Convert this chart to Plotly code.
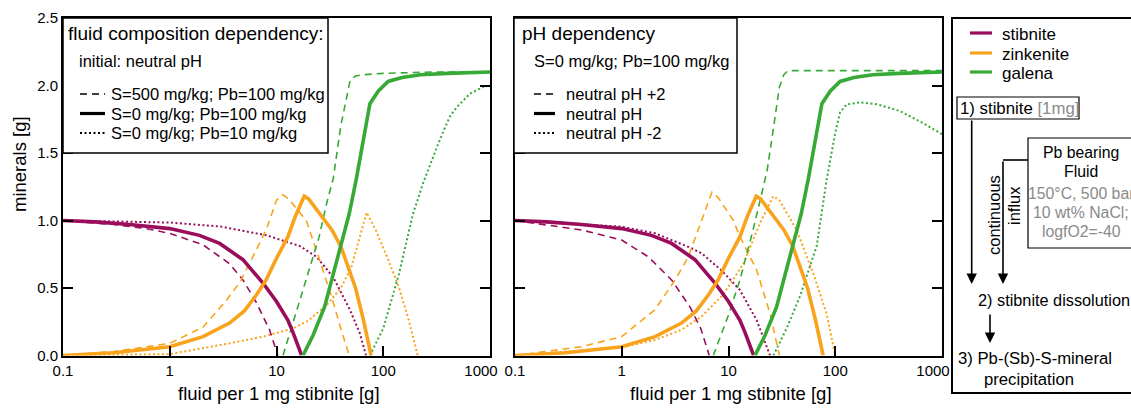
import plotly.graph_objects as go

W, H = 1131, 410

# ---------------- data ----------------
# neutral pH, S=0 mg/kg, Pb=100 mg/kg (solid, shared by both panels)
stib_neutral_x = [0.1, 0.2, 0.42, 1, 1.9, 2.93, 4.85, 7.5, 10, 12.8, 14.3, 17.2]
stib_neutral_y = [1.0, 0.99, 0.97, 0.94, 0.89, 0.83, 0.71, 0.535, 0.40, 0.26, 0.17, 0.0]
zink_neutral_x = [0.1, 0.3, 1, 2.05, 3.63, 5.0, 6.5, 8.0, 10, 12.8, 15, 18.2, 20, 25, 33, 40, 48, 55, 65, 77]
zink_neutral_y = [0.0, 0.02, 0.065, 0.14, 0.24, 0.33, 0.45, 0.56, 0.72, 0.88, 1.03, 1.18, 1.16, 1.06, 0.93, 0.81, 0.64, 0.5, 0.27, 0.0]
gal_neutral_x = [17.7, 22, 28.2, 34, 40.5, 48, 56, 65, 75, 90, 111, 150, 224, 400, 1000]
gal_neutral_y = [0.0, 0.15, 0.36, 0.6, 0.83, 1.05, 1.31, 1.6, 1.865, 1.96, 2.03, 2.06, 2.08, 2.09, 2.1]

# S=500 mg/kg; Pb=100 mg/kg (dashed, left panel)
stib_s500_x = [0.1, 0.3, 0.6, 1, 2.05, 3.63, 4.85, 6.5, 8.6, 10.3]
stib_s500_y = [1.0, 0.97, 0.94, 0.905, 0.82, 0.68, 0.56, 0.39, 0.19, 0.0]
zink_s500_x = [0.1, 0.3, 1, 2.05, 3.4, 4.6, 6.0, 8.0, 10, 11.5, 13, 19, 25, 33, 40, 48]
zink_s500_y = [0.0, 0.03, 0.09, 0.21, 0.41, 0.55, 0.73, 0.93, 1.15, 1.19, 1.16, 1.0, 0.72, 0.43, 0.2, 0.0]
gal_s500_x = [11.5, 15, 20, 25, 30, 34, 40, 49, 55, 65, 100, 300, 1000]
gal_s500_y = [0.0, 0.3, 0.62, 0.875, 1.15, 1.31, 1.7, 2.04, 2.07, 2.08, 2.09, 2.1, 2.1]

# S=0 mg/kg; Pb=10 mg/kg (dotted, left panel)
stib_pb10_x = [0.1, 1, 3, 8.1, 16.6, 23.8, 34, 48.6, 60, 69]
stib_pb10_y = [1.0, 0.985, 0.955, 0.89, 0.81, 0.73, 0.58, 0.34, 0.17, 0.0]
zink_pb10_x = [0.1, 1, 3.63, 7.5, 14.3, 20, 30, 40, 50, 60, 70, 85, 110, 141, 175, 210]
zink_pb10_y = [0.0, 0.01, 0.09, 0.14, 0.2, 0.26, 0.38, 0.5, 0.65, 0.88, 1.06, 0.93, 0.72, 0.5, 0.25, 0.0]
gal_pb10_x = [75, 100, 140, 190, 237, 270, 317, 365, 421, 488, 650, 870, 1000]
gal_pb10_y = [0.0, 0.2, 0.6, 1.05, 1.28, 1.4, 1.54, 1.66, 1.77, 1.84, 1.94, 1.99, 2.0]

# neutral pH +2 (dashed, right panel)
stib_php2_x = [0.1, 0.42, 1, 1.78, 2.93, 4.36, 5.5, 6.25, 6.6]
stib_php2_y = [1.0, 0.93, 0.855, 0.73, 0.56, 0.36, 0.2, 0.07, 0.0]
zink_php2_x = [0.1, 0.42, 1, 2.05, 3.16, 4.2, 5.6, 6.5, 7.0, 8, 11.1, 12.8, 18.4, 24.5, 30]
zink_php2_y = [0.0, 0.065, 0.14, 0.34, 0.56, 0.73, 1.0, 1.15, 1.21, 1.17, 1.0, 0.88, 0.63, 0.31, 0.0]
gal_php2_x = [7.2, 10, 12.8, 17, 21.2, 23, 26, 30, 33, 36, 100, 1000]
gal_php2_y = [0.0, 0.3, 0.56, 0.93, 1.25, 1.37, 1.65, 1.99, 2.08, 2.11, 2.11, 2.11]

# neutral pH -2 (dotted, right panel)
stib_phm2_x = [0.1, 1, 2.05, 3.63, 4.36, 5.6, 8.6, 12.8, 18.4, 24.5]
stib_phm2_y = [1.0, 0.954, 0.905, 0.83, 0.8, 0.757, 0.63, 0.485, 0.26, 0.0]
zink_phm2_x = [0.1, 1, 2.05, 3.63, 5.6, 8.9, 13.8, 19.7, 26.3, 30, 43.5, 62, 83, 100]
zink_phm2_y = [0.0, 0.06, 0.115, 0.19, 0.29, 0.45, 0.68, 0.98, 1.18, 1.15, 0.93, 0.61, 0.31, 0.0]
gal_phm2_x = [26.3, 35, 46.8, 67, 83, 100, 111, 128, 170, 250, 405, 600, 1000]
gal_phm2_y = [0.0, 0.2, 0.44, 0.81, 1.3, 1.65, 1.8, 1.86, 1.875, 1.86, 1.81, 1.74, 1.64]

x_tickvals = [0.1, 1, 10, 100]
x_ticktext = ["0.1", "1", "10", "100"]
x_end_tickvals = [1000]
x_end_ticktext = ["1000"]
y_tickvals = [0.0, 0.5, 1.0, 1.5, 2.0, 2.5]
y_ticktext = ["0.0", "0.5", "1.0", "1.5", "2.0", "2.5"]

mineral_names = ["stibnite", "zinkenite", "galena"]
left_legend_labels = ["S=500 mg/kg; Pb=100 mg/kg", "S=0 mg/kg; Pb=100 mg/kg", "S=0 mg/kg; Pb=10 mg/kg"]
right_legend_labels = ["neutral pH +2", "neutral pH", "neutral pH -2"]

# ---------------- styles ----------------
PURPLE = "#990D5C"
ORANGE = "#F8A31B"
GREEN = "#36A936"
COLORS = [PURPLE, ORANGE, GREEN]
GRAY = "#8a8a8a"
FONT = "Liberation Sans, Arial, Helvetica, sans-serif"
STYLES = {
    "solid": dict(width=3.6, dash="solid"),
    "dash": dict(width=1.6, dash="7px,5px"),
    "dot": dict(width=2.0, dash="2px,2.5px"),
}


def X(p):
    return p / W


def Y(p):
    return 1 - p / H


fig = go.Figure()

left_sets = [
    ("dot", [(stib_pb10_x, stib_pb10_y), (zink_pb10_x, zink_pb10_y), (gal_pb10_x, gal_pb10_y)]),
    ("dash", [(stib_s500_x, stib_s500_y), (zink_s500_x, zink_s500_y), (gal_s500_x, gal_s500_y)]),
    ("solid", [(stib_neutral_x, stib_neutral_y), (zink_neutral_x, zink_neutral_y), (gal_neutral_x, gal_neutral_y)]),
]
right_sets = [
    ("dot", [(stib_phm2_x, stib_phm2_y), (zink_phm2_x, zink_phm2_y), (gal_phm2_x, gal_phm2_y)]),
    ("dash", [(stib_php2_x, stib_php2_y), (zink_php2_x, zink_php2_y), (gal_php2_x, gal_php2_y)]),
    ("solid", [(stib_neutral_x, stib_neutral_y), (zink_neutral_x, zink_neutral_y), (gal_neutral_x, gal_neutral_y)]),
]

for axes, sets in (("x", left_sets), ("x2", right_sets)):
    yax = "y" if axes == "x" else "y2"
    for style, series in sets:
        for (xs, ys), col in zip(series, COLORS):
            fig.add_trace(go.Scatter(
                x=xs, y=ys, mode="lines", xaxis=axes, yaxis=yax,
                line=dict(color=col, **STYLES[style]), showlegend=False,
                hoverinfo="skip"))

# empty traces registering the overlay axes that carry the shifted "1000" labels
for xa, ya in (("x3", "y"), ("x4", "y2")):
    fig.add_trace(go.Scatter(x=[], y=[], xaxis=xa, yaxis=ya, showlegend=False, hoverinfo="skip"))

# plot areas in pixels
L1, R1 = 63, 490
L2, R2 = 515, 942
TOP, BOT = 18, 355.5

tickfont = dict(family=FONT, size=15, color="black")
common_x = dict(type="log", range=[-1, 3], tickvals=x_tickvals, ticktext=x_ticktext,
                ticks="inside", ticklen=10, tickwidth=1.5, tickcolor="black",
                showline=True, linecolor="black", linewidth=2, mirror=True,
                showgrid=False, zeroline=False, automargin=False, tickfont=tickfont)
end_x = dict(type="log", range=[-1, 3], tickvals=x_end_tickvals, ticktext=x_end_ticktext,
             ticks="inside", ticklen=10, tickwidth=1.5, tickcolor="rgba(0,0,0,0)",
             showline=True, linecolor="rgba(0,0,0,0)", linewidth=2,
             showgrid=False, zeroline=False, automargin=False,
             ticklabelshift=-9, tickfont=tickfont)
common_y = dict(range=[0, 2.5], tickvals=y_tickvals, ticktext=y_ticktext,
                ticks="inside", ticklen=10, tickwidth=1.5, tickcolor="black",
                showline=True, linecolor="black", linewidth=2, mirror="ticks",
                showgrid=False, zeroline=False, automargin=False, tickfont=tickfont)

fig.update_layout(
    width=W, height=H, margin=dict(l=0, r=0, t=0, b=0, pad=0, autoexpand=False),
    paper_bgcolor="white", plot_bgcolor="white",
    font=dict(family=FONT, color="black"),
    xaxis=dict(domain=[X(L1), X(R1)], anchor="y", **common_x),
    yaxis=dict(domain=[Y(BOT), Y(TOP)], anchor="x", **common_y),
    xaxis2=dict(domain=[X(L2), X(R2)], anchor="y2", **common_x),
    yaxis2=dict(domain=[Y(BOT), Y(TOP)], anchor="x2", showticklabels=False, **common_y),
    xaxis3=dict(domain=[X(L1), X(R1)], anchor="y", overlaying="x", side="bottom", **end_x),
    xaxis4=dict(domain=[X(L2), X(R2)], anchor="y2", overlaying="x2", side="bottom", **end_x),
)

shapes = []
annots = []


def text(x, y, s, size=16, color="black", xanchor="left", angle=0):
    annots.append(dict(x=X(x), y=Y(y), xref="paper", yref="paper", text=s, showarrow=False,
                       xanchor=xanchor, yanchor="middle", textangle=angle, borderpad=0,
                       font=dict(family=FONT, size=size, color=color)))


def rect(x0, y0, x1, y1, width=1.5, fill="white"):
    shapes.append(dict(type="rect", xref="paper", yref="paper", x0=X(x0), x1=X(x1),
                       y0=Y(y0), y1=Y(y1), line=dict(color="black", width=width),
                       fillcolor=fill, layer="above"))


def seg(x0, y0, x1, y1, color="black", width=1.5, dash="solid"):
    shapes.append(dict(type="line", xref="paper", yref="paper", x0=X(x0), x1=X(x1),
                       y0=Y(y0), y1=Y(y1), line=dict(color=color, width=width, dash=dash),
                       layer="above"))


def arrow(x0, y0, x1, y1):
    annots.append(dict(x=X(x1), y=Y(y1), xref="paper", yref="paper",
                       ax=x0 - x1, ay=y0 - y1, axref="pixel", ayref="pixel",
                       showarrow=True, arrowhead=2, arrowsize=1.3, arrowwidth=1.6,
                       arrowcolor="black", text=""))


# axis titles
text((L1 + R1) / 2 + 2, 393, "fluid per 1 mg stibnite [g]", size=18.5, xanchor="center")
text((L2 + R2) / 2 + 2, 393, "fluid per 1 mg stibnite [g]", size=18.5, xanchor="center")
text(19, 164, "minerals [g]", size=18.5, xanchor="center", angle=-90)

sample_styles = [STYLES["dash"], STYLES["solid"], STYLES["dot"]]
rows = [94, 113.5, 133]

# left legend box
rect(L1, TOP, 328, 153)
text(67, 34, "fluid composition dependency:", size=19)
text(78, 61, "initial: neutral pH", size=16.5)
for st, ry, lab in zip(sample_styles, rows, left_legend_labels):
    seg(80, ry, 105, ry, width=st["width"] if st["dash"] != "solid" else 3.2, dash=st["dash"])
    text(110, ry, lab, size=16.5)

# right legend box
rect(L2 - 1, TOP, 737, 153)
text(521, 34, "pH dependency", size=19)
text(533, 61, "S=0 mg/kg; Pb=100 mg/kg", size=16.5)
for st, ry, lab in zip(sample_styles, rows, right_legend_labels):
    seg(534, ry, 555, ry, width=st["width"] if st["dash"] != "solid" else 3.2, dash=st["dash"])
    text(565, ry, lab, size=16.5)

# right-hand info box
rect(952, 18, 1150, 393, width=2)
for ry, col, name in zip([33, 53, 72], COLORS, mineral_names):
    seg(970, ry, 992, ry, color=col, width=3.2)
    text(1001, ry + 1.5, name, size=17)

rect(957, 97, 1079, 119, width=1.2)
text(959, 108, "1) stibnite <span style='color:%s'>[1mg]</span>" % GRAY, size=16.8)
arrow(971.7, 119, 971.7, 284)

rect(1028, 138, 1150, 248, width=1.2)
text(1081, 152, "Pb bearing", size=15.8, xanchor="center")
text(1081, 172, "Fluid", size=15.8, xanchor="center")
text(1081, 193, "150°C, 500 bar", size=15.8, xanchor="center", color=GRAY)
text(1081, 212, "10 wt% NaCl;", size=15.8, xanchor="center", color=GRAY)
text(1081, 232, "logfO2=-40", size=15.8, xanchor="center", color=GRAY)
seg(1028, 160, 1003, 160, width=1.6)
arrow(1003, 160, 1003, 284)
text(994, 215, "continuous", size=16.5, xanchor="center", angle=-90)
text(1014, 206, "influx", size=16.5, xanchor="center", angle=-90)

text(977, 300, "2) stibnite dissolution", size=16.3)
arrow(990, 313, 990, 343)
text(957, 358, "3) Pb-(Sb)-S-mineral", size=16.7)
text(983, 379, "precipitation", size=16.7)

fig.update_layout(shapes=shapes, annotations=annots)
fig.write_html("out.html")
